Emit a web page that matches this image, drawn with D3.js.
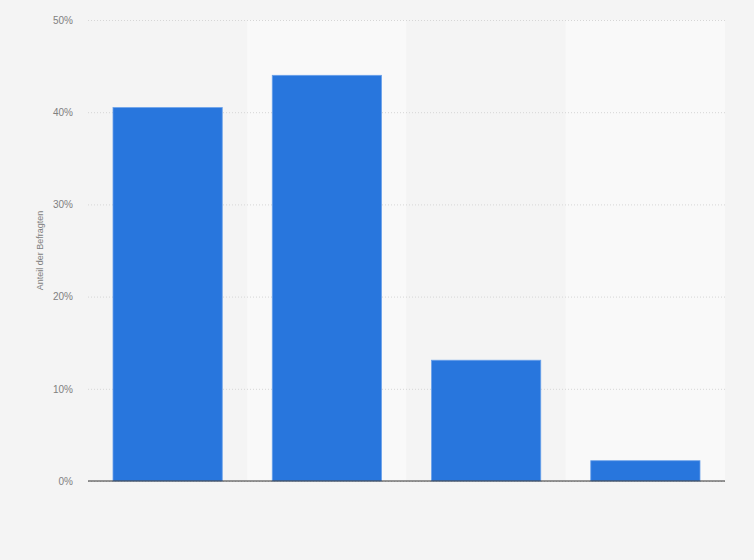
<!DOCTYPE html>
<html>
<head>
<meta charset="utf-8">
<script src="https://cdn.jsdelivr.net/npm/d3@7"></script>
<style>
  body { margin: 0; background: #f4f4f4; }
  svg { display: block; font-family: "Liberation Sans", Arial, sans-serif; }
</style>
</head>
<body>
<svg id="chart"></svg>
<script>
// data (no category labels shown)
var categories = ["A", "B", "C", "D"];
var shares = [40.5, 44.0, 13.1, 2.2];
var yTicks = [0, 10, 20, 30, 40, 50];
var yLabel = "Anteil der Befragten";

var width = 754, height = 560;
var margin = {top: 20, right: 29, bottom: 79, left: 88};
var innerW = width - margin.left - margin.right;
var innerH = height - margin.top - margin.bottom;

const svg = d3.select("#chart")
    .attr("width", width)
    .attr("height", height);

svg.append("rect")
    .attr("width", width)
    .attr("height", height)
    .attr("fill", "#f4f4f4");

var g = svg.append("g")
    .attr("transform", `translate(${margin.left},${margin.top})`);

var x = d3.scaleBand()
    .domain(categories)
    .range([0, innerW])
    .paddingInner(0.314)
    .paddingOuter(0.157);

var y = d3.scaleLinear()
    .domain([0, 50])
    .range([innerH, 0]);

// alternating background bands
var step = x.step();
g.selectAll(".band")
    .data(categories)
    .enter().append("rect")
    .attr("class", "band")
    .attr("x", function(d, i) { return i * step; })
    .attr("y", 0)
    .attr("width", step)
    .attr("height", innerH)
    .attr("fill", function(d, i) { return i % 2 ? "#f9f9f9" : "#f4f4f4"; });

// gridlines + tick labels
var yAxis = g.append("g")
    .call(d3.axisLeft(y)
        .tickValues(yTicks)
        .tickSize(-innerW)
        .tickPadding(15)
        .tickFormat(function(d) { return d + "%"; }));
yAxis.select(".domain").remove();
yAxis.selectAll(".tick line")
    .attr("stroke", "#d6d6d6")
    .attr("stroke-dasharray", "1,2");
yAxis.selectAll(".tick text")
    .attr("fill", "#808080")
    .style("font-size", "10px");

// bars
g.selectAll(".bar")
    .data(shares)
    .enter().append("rect")
    .attr("class", "bar")
    .attr("x", function(d, i) { return x(categories[i]); })
    .attr("y", function(d) { return y(d); })
    .attr("width", x.bandwidth())
    .attr("height", function(d) { return innerH - y(d); })
    .attr("fill", "#2876dd")
    .attr("stroke", "#6aa1ea")
    .attr("stroke-width", 0.8);

// baseline
g.append("line")
    .attr("x1", 0)
    .attr("x2", innerW)
    .attr("y1", innerH)
    .attr("y2", innerH)
    .attr("stroke", "#333")
    .attr("stroke-width", 1.2);

// y axis title
svg.append("text")
    .attr("transform", `translate(43,${margin.top + innerH / 2}) rotate(-90)`)
    .attr("text-anchor", "middle")
    .attr("fill", "#808080")
    .style("font-size", "9px")
    .text(yLabel);
</script>
</body>
</html>
